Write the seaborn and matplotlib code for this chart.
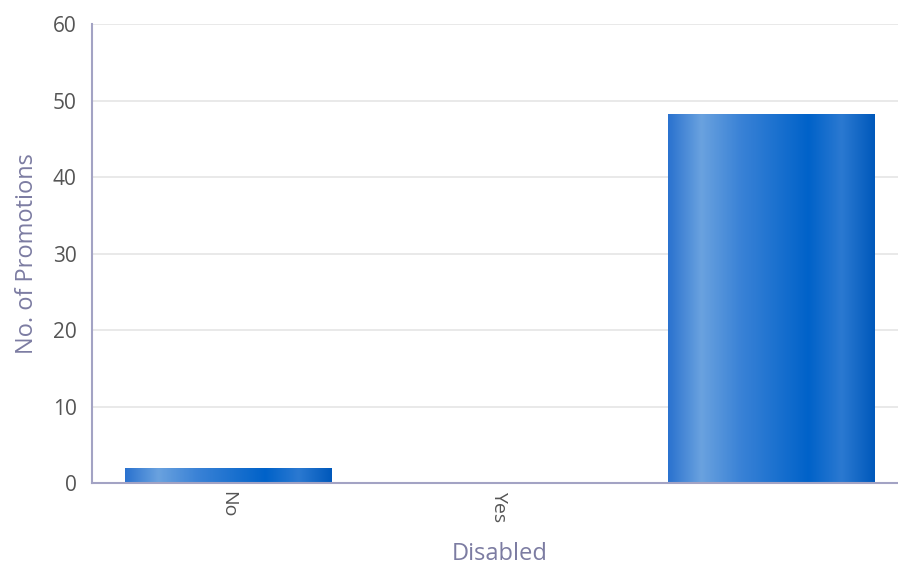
import numpy as np
import pandas as pd
import matplotlib
matplotlib.use("Agg")
import matplotlib.pyplot as plt
from matplotlib.colors import LinearSegmentedColormap
import seaborn as sns

categories = ["No", "Yes", ""]
promotions = [2, 0, 48.3]

sns.set_theme(style="white")
plt.rcParams["font.family"] = ["Open Sans", "DejaVu Sans"]

df = pd.DataFrame({"Disabled": categories, "Promotions": promotions})

fig = plt.figure(figsize=(8.98, 5.73), dpi=100)
ax = fig.add_axes([0.1025, 0.157, 0.907, 0.801])

sns.barplot(data=df, x="Disabled", y="Promotions", order=categories,
            color="#1f6fd0", width=0.76, ax=ax, zorder=3)

# horizontal cylinder-like shading for each bar
shade = LinearSegmentedColormap.from_list(
    "bar_shade",
    [(0.0, "#2a72cf"), (0.16, "#6aa2df"), (0.35, "#3a82d6"),
     (0.68, "#0062c9"), (0.84, "#2b79d1"), (1.0, "#0058bb")])
grad = np.linspace(0, 1, 256).reshape(1, -1)
for p in ax.patches:
    x0, y0 = p.get_x(), p.get_y()
    w, h = p.get_width(), p.get_height()
    if h <= 0:
        continue
    im = ax.imshow(grad, cmap=shade, aspect="auto",
                   extent=[x0, x0 + w, y0, y0 + h], zorder=4,
                   interpolation="bilinear")
    im.set_clip_path(p)
    p.set_edgecolor("none")

ax.set_xlim(-0.5, 2.5)
ax.set_ylim(0, 60)
ax.set_yticks(range(0, 61, 10))
ax.yaxis.grid(True, color="#e3e3e3", linewidth=1.1, zorder=0)
ax.set_axisbelow(True)

for side in ("top", "right"):
    ax.spines[side].set_visible(False)
for side in ("left", "bottom"):
    ax.spines[side].set_color("#a3a3c4")
    ax.spines[side].set_linewidth(1.5)
    ax.spines[side].set_zorder(5)

ax.tick_params(axis="y", length=0, labelsize=15, labelcolor="#555555", pad=11)
ax.tick_params(axis="x", length=0, labelsize=14, labelcolor="#555555", pad=6)
for lbl in ax.get_xticklabels():
    lbl.set_rotation(-90)

ax.set_xlabel("Disabled", fontsize=17, color="#7c7ca2", labelpad=14)
ax.set_ylabel("No. of Promotions", fontsize=17, color="#7c7ca2", labelpad=10)

fig.savefig("out.png", dpi=100)
